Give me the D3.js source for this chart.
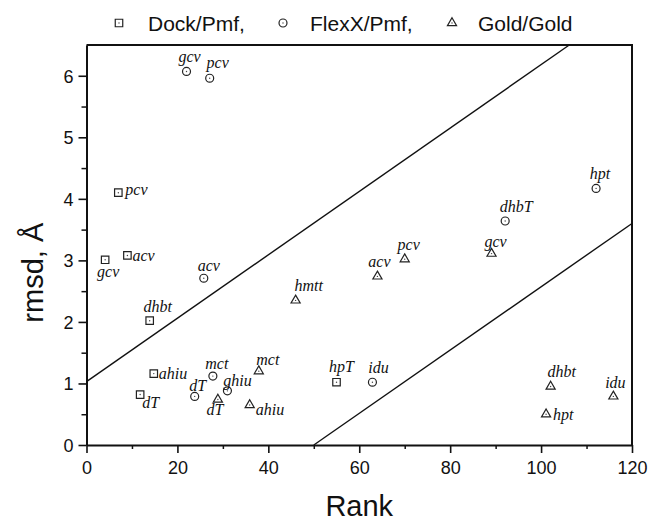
<!DOCTYPE html>
<html>
<head>
    <title>rmsd vs Rank</title>
    <script src="https://cdnjs.cloudflare.com/ajax/libs/d3/7.8.5/d3.min.js"></script>
    <style>
        body {
            margin: 0;
            background: white;
        }
        .tick text {
            font-family: "Liberation Sans", Arial, sans-serif;
            font-size: 18px;
            fill: #111;
        }
        .lbl {
            font-family: "Liberation Serif", "Times New Roman", serif;
            font-style: italic;
            font-size: 16px;
            fill: #111;
        }
    </style>
</head>
<body>
    <div id="chart"></div>

    <script>
        // Data
        const dockLabels = ["pcv", "gcv", "acv", "dhbt", "ahiu", "dT", "hpT"];
        const dockRank   = [7.0, 4.1, 9.0, 13.9, 14.8, 11.8, 55.0];
        const dockRmsd   = [4.10, 3.01, 3.08, 2.02, 1.16, 0.82, 1.02];

        const flexLabels = ["gcv", "pcv", "acv", "mct", "dT", "ghiu", "idu", "dhbT", "hpt"];
        const flexRank   = [22.0, 27.1, 25.8, 27.8, 23.8, 31.0, 62.9, 92.1, 112.1];
        const flexRmsd   = [6.07, 5.96, 2.71, 1.12, 0.79, 0.88, 1.02, 3.64, 4.17];

        const goldLabels = ["dT", "ahiu", "mct", "hmtt", "acv", "pcv", "gcv", "dhbt", "hpt", "idu"];
        const goldRank   = [28.9, 35.9, 37.9, 46.0, 64.0, 70.0, 89.1, 102.1, 101.1, 115.9];
        const goldRmsd   = [0.74, 0.65, 1.20, 2.35, 2.74, 3.02, 3.11, 0.95, 0.50, 0.79];

        const seriesNames = ["Dock/Pmf,", "FlexX/Pmf,", "Gold/Gold"];

        // the two guide lines (rank, rmsd)
        const upperLine = [[0, 1.03], [106.2, 6.5]];
        const lowerLine = [[50, 0], [120, 3.6]];

        const xTicks = [0, 20, 40, 60, 80, 100, 120];
        const yTicks = [0, 1, 2, 3, 4, 5, 6];

        // label placement: [anchor, dx, dy] in px from the marker
        const dockNudge = [["start", 7, 2], ["middle", 3, 17], ["start", 5, 6], ["middle", 8, -9],
                           ["start", 5, 5], ["start", 2, 13], ["middle", 5, -10]];
        const flexNudge = [["middle", 3, -9], ["middle", 8, -10], ["middle", 5, -7], ["middle", 4, -7],
                           ["middle", 3, -5], ["middle", 10, -5], ["middle", 6, -9], ["middle", 11, -9],
                           ["middle", 4, -9]];
        const goldNudge = [["middle", -3, 16], ["start", 6, 10], ["middle", 9, -6], ["middle", 13, -9],
                           ["middle", 2, -9], ["middle", 4, -9], ["middle", 4, -7], ["middle", 11, -10],
                           ["start", 7, 6], ["middle", 2, -8]];

        const width = 650;
        const height = 525;
        const margin = { top: 45, right: 18, bottom: 80, left: 86.5 };

        const svg = d3.select("#chart")
            .append("svg")
            .attr("width", width)
            .attr("height", height);

        const x = d3.scaleLinear().domain([0, 120]).range([margin.left, width - margin.right]);
        const y = d3.scaleLinear().domain([0, 6.5]).range([height - margin.bottom, margin.top]);

        // minor ticks
        svg.append("g")
            .attr("transform", `translate(0,${y(0)})`)
            .call(d3.axisBottom(x).tickValues(d3.range(10, 120, 20)).tickSize(4).tickFormat(""))
            .call(g => g.select(".domain").remove())
            .selectAll("line").attr("stroke", "#111").attr("stroke-width", 1.5);

        svg.append("g")
            .attr("transform", `translate(${x(0)},0)`)
            .call(d3.axisLeft(y).tickValues(d3.range(0.5, 6.5, 1)).tickSize(5).tickFormat(""))
            .call(g => g.select(".domain").remove())
            .selectAll("line").attr("stroke", "#111").attr("stroke-width", 1.5);

        // major axes
        const xAxis = svg.append("g")
            .attr("transform", `translate(0,${y(0)})`)
            .call(d3.axisBottom(x).tickValues(xTicks).tickSize(8).tickPadding(8).tickSizeOuter(0)
                .tickFormat(d3.format("d")));
        const yAxis = svg.append("g")
            .attr("transform", `translate(${x(0)},0)`)
            .call(d3.axisLeft(y).tickValues(yTicks).tickSize(8).tickPadding(5).tickSizeOuter(0)
                .tickFormat(d3.format("d")));

        [xAxis, yAxis].forEach(a => {
            a.select(".domain").attr("stroke", "#111").attr("stroke-width", 2);
            a.selectAll(".tick line").attr("stroke", "#111").attr("stroke-width", 1.6);
        });
        yAxis.selectAll(".tick text").attr("dy", "0.35em");

        // top and right frame
        svg.append("path")
            .attr("d", `M${x(0)},${y(6.5)}H${x(120)}V${y(0)}`)
            .attr("fill", "none")
            .attr("stroke", "#111")
            .attr("stroke-width", 2);

        // guide lines
        const line = d3.line().x(d => x(d[0])).y(d => y(d[1]));
        [upperLine, lowerLine].forEach(l => {
            svg.append("path")
                .attr("d", line(l))
                .attr("fill", "none")
                .attr("stroke", "#111")
                .attr("stroke-width", 1.4);
        });

        // axis titles
        svg.append("text")
            .attr("x", (x(0) + x(120)) / 2)
            .attr("y", 516)
            .attr("text-anchor", "middle")
            .style("font-family", "Liberation Sans, Arial, sans-serif")
            .style("font-size", "29px")
            .attr("fill", "#111")
            .text("Rank");

        svg.append("text")
            .attr("transform", `translate(43,${y(2.8)}) rotate(-90)`)
            .attr("text-anchor", "middle")
            .style("font-family", "Liberation Sans, Arial, sans-serif")
            .style("font-size", "29px")
            .attr("fill", "#111")
            .text("rmsd, Å");

        // markers
        const shapes = [
            d3.symbol().type(d3.symbolSquare).size(56),
            d3.symbol().type(d3.symbolCircle).size(50),
            d3.symbol().type(d3.symbolTriangle).size(36)
        ];

        function drawMarker(g, shape, cx, cy) {
            g.append("path")
                .attr("d", shape())
                .attr("transform", `translate(${cx},${cy})`)
                .attr("fill", "white")
                .attr("stroke", "#222")
                .attr("stroke-width", 1.2);
            g.append("circle")
                .attr("cx", cx).attr("cy", cy).attr("r", 0.7)
                .attr("fill", "#444");
        }

        const series = [
            { rank: dockRank, rmsd: dockRmsd, labels: dockLabels, nudge: dockNudge },
            { rank: flexRank, rmsd: flexRmsd, labels: flexLabels, nudge: flexNudge },
            { rank: goldRank, rmsd: goldRmsd, labels: goldLabels, nudge: goldNudge }
        ];

        const pts = svg.append("g");
        series.forEach((s, si) => {
            s.rank.forEach((r, i) => {
                const cx = x(r), cy = y(s.rmsd[i]);
                drawMarker(pts, shapes[si], cx, cy);
                const [anchor, dx, dy] = s.nudge[i];
                pts.append("text")
                    .attr("class", "lbl")
                    .attr("x", cx + dx)
                    .attr("y", cy + dy)
                    .attr("text-anchor", anchor)
                    .text(s.labels[i]);
            });
        });

        // legend
        const legend = svg.append("g");
        const legendMarkX = [119, 283, 452];
        const legendTextX = [148, 310, 478];
        seriesNames.forEach((name, i) => {
            drawMarker(legend, shapes[i], legendMarkX[i], 23);
            legend.append("text")
                .attr("x", legendTextX[i])
                .attr("y", 31)
                .style("font-family", "Liberation Sans, Arial, sans-serif")
                .style("font-size", "21px")
                .attr("fill", "#111")
                .text(name);
        });
    </script>
</body>
</html>
